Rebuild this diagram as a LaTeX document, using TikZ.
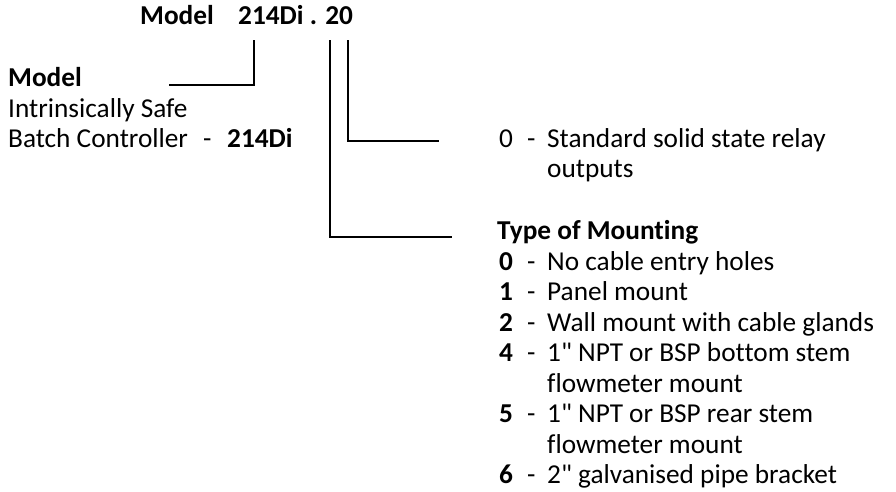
\documentclass[tikz,border=0pt]{standalone}
\usepackage{fontspec}
\setmainfont{Carlito}[Ligatures={NoCommon,TeXOff}]
\usepackage{tikz}

\begin{document}
\begin{tikzpicture}[x=1pt,y=-1pt]
    % --- DEFINE STYLES ---
    % Style for plain text lines
    \tikzstyle{txt} = [anchor=base west, inner sep=0pt, font=\fontsize{27.3}{30}\selectfont]
    % Style for bold text
    \tikzstyle{btxt} = [txt, font=\fontsize{27.3}{30}\selectfont\bfseries]
    % Style for the leader lines
    \tikzstyle{lead} = [line width=1.3pt]

    \useasboundingbox (0,0) rectangle (896,491);

    % --- MODEL CODE ---
    \node[btxt] (title) at (140,24) {Model};
    \node[btxt] (code) at (238,24) {214Di . 20};

    % --- MODEL DESCRIPTION ---
    \node[btxt] (model) at (8,86) {Model};
    \node[txt] (safe) at (8,117) {Intrinsically Safe};
    \node[txt] (batch) at (8,147) {Batch Controller};
    \node[txt] (bdash) at (203,147) {-};
    \node[btxt] (bcode) at (227,147) {214Di};

    % --- OUTPUTS ---
    \node[txt] (out0) at (499,147) {0};
    \node[txt] (odash) at (527,147) {-};
    \node[txt] (outA) at (547,147) {Standard solid state relay};
    \node[txt] (outB) at (547,177) {outputs};

    % --- TYPE OF MOUNTING ---
    \node[btxt] (mount) at (497,239) {Type of Mounting};
    \foreach \n/\t/\y in {0/No cable entry holes/270, 1/Panel mount/300.5,
        2/Wall mount with cable glands/331, 4/1" NPT or BSP bottom stem/361.5,
        5/1" NPT or BSP rear stem/422.5, 6/2" galvanised pipe bracket/483.5} {
        \node[btxt] (num\n) at (499,\y) {\n};
        \node[txt] at (527,\y) {-};
        \node[txt] (item\n) at (547,\y) {\t};
    }
    % second lines of the long entries
    \node[txt] (item4b) at (547,392) {flowmeter mount};
    \node[txt] (item5b) at (547,453) {flowmeter mount};

    % --- LEADER LINES ---
    \coordinate (top1) at (254,40);
    \coordinate (end1) at (169,85);
    \coordinate (top2) at (330,40);
    \coordinate (end2) at (452,237);
    \coordinate (top3) at (348,40);
    \coordinate (end3) at (439,141);
    \draw[lead] (top1) |- (end1);
    \draw[lead] (top2) |- (end2);
    \draw[lead] (top3) |- (end3);
\end{tikzpicture}
\end{document}
